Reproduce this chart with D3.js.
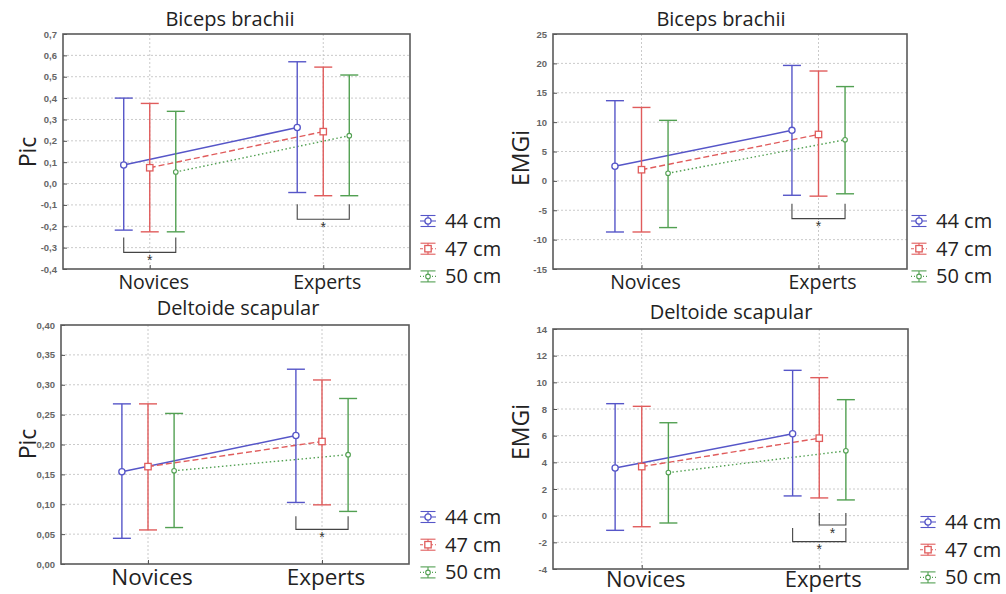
<!DOCTYPE html>
<html><head><meta charset="utf-8">
<script src="https://cdn.jsdelivr.net/npm/d3@7"></script>
<style>body{margin:0;background:#fff} svg{display:block}</style>
</head><body><svg id="chart" width="1006" height="594"></svg>
<script>
const categories = ["Novices", "Experts"];
const seriesNames = ["44 cm", "47 cm", "50 cm"];

// Panel A: Biceps brachii - Pic   (rows: 44, 47, 50 cm; cols: Novices, Experts)
const bicepsPicMean  = [[0.087, 0.262], [0.074, 0.243], [0.054, 0.224]];
const bicepsPicUpper = [[0.400, 0.570], [0.375, 0.545], [0.338, 0.508]];
const bicepsPicLower = [[-0.218, -0.042], [-0.226, -0.057], [-0.226, -0.057]];
const bicepsPicTicks = [-0.4, -0.3, -0.2, -0.1, 0.0, 0.1, 0.2, 0.3, 0.4, 0.5, 0.6, 0.7];
const bicepsPicBrackets = [
  {cat: 0, from: 0, to: 2, top: -0.253, bottom: -0.322},
  {cat: 1, from: 0, to: 2, top: -0.097, bottom: -0.167}
];

// Panel B: Biceps brachii - EMGi
const bicepsEmgMean  = [[2.5, 8.6], [1.9, 7.9], [1.3, 7.0]];
const bicepsEmgUpper = [[13.65, 19.65], [12.5, 18.7], [10.3, 16.05]];
const bicepsEmgLower = [[-8.7, -2.45], [-8.7, -2.6], [-7.95, -2.2]];
const bicepsEmgTicks = [-15, -10, -5, 0, 5, 10, 15, 20, 25];
const bicepsEmgBrackets = [
  {cat: 1, from: 0, to: 2, top: -3.88, bottom: -6.43}
];

// Panel C: Deltoide scapular - Pic
const deltPicMean  = [[0.1545, 0.215], [0.163, 0.205], [0.156, 0.183]];
const deltPicUpper = [[0.268, 0.326], [0.268, 0.308], [0.252, 0.277]];
const deltPicLower = [[0.043, 0.103], [0.057, 0.099], [0.061, 0.088]];
const deltPicTicks = [0.00, 0.05, 0.10, 0.15, 0.20, 0.25, 0.30, 0.35, 0.40];
const deltPicBrackets = [
  {cat: 1, from: 0, to: 2, top: 0.080, bottom: 0.058}
];

// Panel D: Deltoide scapular - EMGi
const deltEmgMean  = [[3.58, 6.14], [3.68, 5.81], [3.23, 4.86]];
const deltEmgUpper = [[8.4, 10.9], [8.2, 10.35], [6.97, 8.7]];
const deltEmgLower = [[-1.1, 1.48], [-0.83, 1.33], [-0.55, 1.18]];
const deltEmgTicks = [-4, -2, 0, 2, 4, 6, 8, 10, 12, 14];
const deltEmgBrackets = [
  {cat: 1, from: 1, to: 2, top: 0.2, bottom: -0.7},
  {cat: 1, from: 0, to: 2, top: -0.92, bottom: -1.95}
];

// ---------- styles ----------
const colors = ["#5656c8", "#e05c5c", "#52a052"];
const dashes = [null, "6,3", "1.5,2.5"];
const LABEL_FONT = "'Open Sans', 'Noto Sans', sans-serif";
const TICK_FONT = "'Liberation Sans', Arial, sans-serif";

const panels = [
  {title: "Biceps brachii", yLabel: "Pic", mean: bicepsPicMean, upper: bicepsPicUpper, lower: bicepsPicLower,
   ticks: bicepsPicTicks, fmt: v => d3.format(".1f")(v).replace(".", ",").replace("−", "-"), brackets: bicepsPicBrackets,
   frame: {l: 63, r: 410, t: 34, b: 269}, titleY: 26, titleX: 230, catY: 289, catSize: 19.5, yLabX: 28, yLabY: 152,
   legend: {x: 420, y: 221}},
  {title: "Biceps brachii", yLabel: "EMGi", mean: bicepsEmgMean, upper: bicepsEmgUpper, lower: bicepsEmgLower,
   ticks: bicepsEmgTicks, fmt: v => d3.format("d")(v).replace("−", "-"), brackets: bicepsEmgBrackets,
   frame: {l: 553, r: 907, t: 34, b: 269}, titleY: 26, titleX: 721, catY: 289, catSize: 19.5, yLabX: 521, yLabY: 158,
   legend: {x: 911, y: 221}},
  {title: "Deltoide scapular", yLabel: "Pic", mean: deltPicMean, upper: deltPicUpper, lower: deltPicLower,
   ticks: deltPicTicks, fmt: v => d3.format(".2f")(v).replace(".", ","), brackets: deltPicBrackets,
   frame: {l: 61, r: 409, t: 325, b: 564}, titleY: 315, titleX: 238, catY: 585, catSize: 22.5, yLabX: 28, yLabY: 444,
   legend: {x: 420, y: 517}},
  {title: "Deltoide scapular", yLabel: "EMGi", mean: deltEmgMean, upper: deltEmgUpper, lower: deltEmgLower,
   ticks: deltEmgTicks, fmt: v => d3.format("d")(v).replace("−", "-"), brackets: deltEmgBrackets,
   frame: {l: 553, r: 908, t: 329, b: 569}, titleY: 319, titleX: 731, catY: 586.5, catSize: 22, yLabX: 521, yLabY: 432,
   legend: {x: 920, y: 522}}
];

const svg = d3.select("#chart");

function marker(g, s, x, y) {
  if (s === 1) {
    g.append("rect").attr("x", x - 3.2).attr("y", y - 3.2).attr("width", 6.4).attr("height", 6.4)
      .attr("fill", "#fff").attr("stroke", colors[s]).attr("stroke-width", 1.3);
  } else {
    g.append("circle").attr("cx", x).attr("cy", y).attr("r", s === 0 ? 3.1 : 2.3)
      .attr("fill", "#fff").attr("stroke", colors[s]).attr("stroke-width", s === 0 ? 1.3 : 1.1);
  }
}

panels.forEach(p => {
  const f = p.frame;
  const g = svg.append("g");
  const x = d3.scalePoint().domain(categories).range([f.l, f.r]).padding(0.5);
  const y = d3.scaleLinear().domain(d3.extent(p.ticks)).range([f.b, f.t]);
  const off = (f.r - f.l) * 0.075;
  const sx = (c, s) => x(categories[c]) + (s - 1) * off;

  // gridlines
  g.selectAll(".hg").data(p.ticks.slice(1, -1)).join("line")
    .attr("x1", f.l).attr("x2", f.r).attr("y1", d => y(d)).attr("y2", d => y(d))
    .attr("stroke", "#c4c4c4").attr("stroke-width", 0.9).attr("stroke-dasharray", "2,2");
  g.selectAll(".vg").data(categories).join("line")
    .attr("x1", d => x(d)).attr("x2", d => x(d)).attr("y1", f.t).attr("y2", f.b)
    .attr("stroke", "#c4c4c4").attr("stroke-width", 0.9).attr("stroke-dasharray", "2,2");

  // y axis
  const ya = d3.axisLeft(y).tickValues(p.ticks).tickFormat(p.fmt).tickSize(-4).tickPadding(6);
  const yg = g.append("g").attr("transform", `translate(${f.l},0)`).call(ya);
  yg.select(".domain").remove();
  yg.selectAll(".tick line").attr("stroke", "#555");
  yg.selectAll("text").attr("font-family", TICK_FONT).attr("font-size", 9.5).attr("font-weight", "bold").attr("fill", "#666");

  // x axis ticks
  const xa = d3.axisBottom(x).tickSize(-4).tickFormat("");
  const xg = g.append("g").attr("transform", `translate(0,${f.b})`).call(xa);
  xg.select(".domain").remove();
  xg.selectAll(".tick line").attr("stroke", "#555");

  // frame
  g.append("rect").attr("x", f.l).attr("y", f.t).attr("width", f.r - f.l).attr("height", f.b - f.t)
    .attr("fill", "none").attr("stroke", "#5a5a5a").attr("stroke-width", 1.6);

  // connecting lines
  const line = d3.line().x(d => d[0]).y(d => d[1]);
  seriesNames.forEach((name, s) => {
    const pts = categories.map((c, ci) => [sx(ci, s), y(p.mean[s][ci])]);
    g.append("path").attr("d", line(pts)).attr("fill", "none").attr("stroke", colors[s])
      .attr("stroke-width", s === 0 ? 1.5 : 1.4).attr("stroke-dasharray", dashes[s]);
  });

  // error bars
  const capW = 9;
  seriesNames.forEach((name, s) => {
    categories.forEach((c, ci) => {
      const cx = sx(ci, s);
      const yu = y(p.upper[s][ci]), yl = y(p.lower[s][ci]);
      g.append("line").attr("x1", cx).attr("x2", cx).attr("y1", yu).attr("y2", yl)
        .attr("stroke", colors[s]).attr("stroke-width", 1.4);
      [yu, yl].forEach(yy => g.append("line").attr("x1", cx - capW).attr("x2", cx + capW)
        .attr("y1", yy).attr("y2", yy).attr("stroke", colors[s]).attr("stroke-width", 1.4));
    });
  });
  seriesNames.forEach((name, s) => {
    categories.forEach((c, ci) => marker(g, s, sx(ci, s), y(p.mean[s][ci])));
  });

  // significance brackets
  p.brackets.forEach(b => {
    const x1 = sx(b.cat, b.from), x2 = sx(b.cat, b.to);
    const yt = y(b.top), yb = y(b.bottom);
    g.append("path").attr("d", `M${x1},${yt}V${yb}H${x2}V${yt}`)
      .attr("fill", "none").attr("stroke", "#444").attr("stroke-width", 1.1);
    g.append("text").attr("x", (x1 + x2) / 2).attr("y", yb + 12.5).attr("text-anchor", "middle")
      .attr("font-family", TICK_FONT).attr("font-size", 14).attr("fill", "#333").text("*");
  });

  // title
  g.append("text").attr("x", p.titleX).attr("y", p.titleY).attr("text-anchor", "middle")
    .attr("font-family", LABEL_FONT).attr("font-size", 20).attr("fill", "#222").text(p.title);

  // category labels
  g.selectAll(".cat").data(categories).join("text")
    .attr("x", d => x(d) + 4).attr("y", p.catY).attr("text-anchor", "middle")
    .attr("font-family", LABEL_FONT).attr("font-size", p.catSize).attr("fill", "#222").text(d => d);

  // y label
  g.append("text").attr("transform", `translate(${p.yLabX},${p.yLabY}) rotate(-90)`)
    .attr("text-anchor", "middle").attr("dy", "0.35em")
    .attr("font-family", LABEL_FONT).attr("font-size", 23).attr("fill", "#222").text(p.yLabel);

  // legend
  const lg = g.append("g").attr("transform", `translate(${p.legend.x},${p.legend.y})`);
  seriesNames.forEach((name, s) => {
    const row = lg.append("g").attr("transform", `translate(0,${s * 27.7})`);
    const cx = 8;
    row.append("line").attr("x1", cx).attr("x2", cx).attr("y1", -5.5).attr("y2", 5.5).attr("stroke", colors[s]).attr("stroke-width", 1.1);
    [-5.5, 5.5].forEach(yy => row.append("line").attr("x1", cx - 7.5).attr("x2", cx + 7.5).attr("y1", yy).attr("y2", yy)
      .attr("stroke", colors[s]).attr("stroke-width", 1.1));
    row.append("line").attr("x1", 0).attr("x2", 16).attr("y1", 0).attr("y2", 0)
      .attr("stroke", colors[s]).attr("stroke-width", 1.1).attr("stroke-dasharray", dashes[s] ? (s === 1 ? "3,2" : "1,2") : null);
    marker(row, s, cx, 0);
    row.append("text").attr("x", 25).attr("y", 0).attr("dy", "0.35em")
      .attr("font-family", LABEL_FONT).attr("font-size", 20).attr("fill", "#222").text(name);
  });
});
</script></body></html>
